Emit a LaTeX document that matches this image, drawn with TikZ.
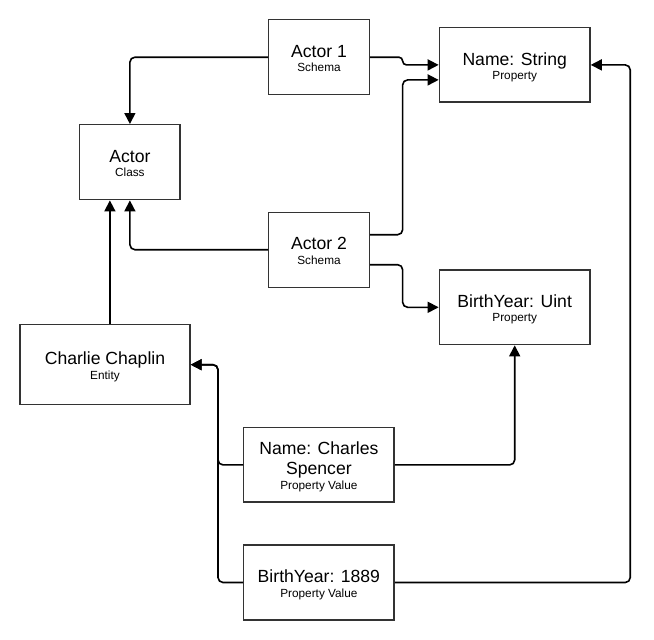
\documentclass[tikz,border=0pt]{standalone}
\usepackage{fontspec}
\setmainfont{Liberation Sans}
\usetikzlibrary{arrows.meta}
\newcommand\mainfs{\fontsize{17.6}{21}\selectfont}
\newcommand\subfs{\fontsize{11.8}{14}\selectfont}
\begin{document}
\begin{tikzpicture}[x=1pt,y=-1pt,
  box/.style={draw=black!80, line width=1.4pt, fill=white, inner sep=0pt,
              minimum width=#1, minimum height=75pt},
  maintxt/.style={anchor=base, inner sep=0pt, font=\mainfs},
  subtxt/.style={anchor=base, inner sep=0pt, font=\subfs},
  conn/.style={draw=black, line width=1.6pt, rounded corners=5pt,
               -{Triangle[length=11pt,width=11pt]}}]
\useasboundingbox (0,0) rectangle (654,640);

% boxes
\node[box=100.6pt] (a1) at (319,57.2) {};
\node[box=100.6pt] (a2) at (319,249.7) {};
\node[box=100.3pt] (actor) at (129.9,162.2) {};
\node[box=150.7pt, minimum height=74.3pt] (ns) at (514.7,64.9) {};
\node[box=150.7pt, minimum height=74.7pt] (byu) at (514.7,307.3) {};
\node[box=170pt, minimum height=80pt] (cc) at (105,364.7) {};
\node[box=150.3pt, minimum height=74.3pt] (ncs) at (318.9,464.9) {};
\node[box=150.3pt] (by) at (318.9,582.5) {};

% texts
\node[maintxt] (a1m) at (a1.center) {Actor 1};
\node[subtxt] (a1s) at ([yshift=-14.5pt]a1.center) {Schema};
\node[maintxt] (a2m) at (a2.center) {Actor 2};
\node[subtxt] (a2s) at ([yshift=-14.5pt]a2.center) {Schema};
\node[maintxt] (acm) at (actor.center) {Actor};
\node[subtxt] (acs) at ([yshift=-14.5pt]actor.center) {Class};
\node[maintxt] (nsm) at ([yshift=-0.6pt]ns.center) {Name: String};
\node[subtxt] (nss) at ([yshift=-14.5pt]ns.center) {Property};
\node[maintxt] (byum) at ([yshift=-0.6pt]byu.center) {BirthYear: Uint};
\node[subtxt] (byus) at ([yshift=-14.5pt]byu.center) {Property};
\node[maintxt] (ccm) at (cc.center) {Charlie Chaplin};
\node[subtxt] (ccs) at ([yshift=-14.5pt]cc.center) {Entity};
\node[maintxt] (ncsm) at ([yshift=10.6pt]ncs.center) {Name: Charles};
\node[maintxt] (ncsm2) at ([yshift=-9.1pt]ncs.center) {Spencer};
\node[subtxt] (ncss) at ([yshift=-24.4pt]ncs.center) {Property Value};
\node[maintxt] (bym) at (by.center) {BirthYear: 1889};
\node[subtxt] (bys) at ([yshift=-14.5pt]by.center) {Property Value};

% connectors
\coordinate (cx) at ([xshift=-20pt]actor.south);
\draw[conn] (a1.west) -| (actor.north);
\draw[conn] (a2.west) -| (actor.south);
\draw[conn] (cc.north -| cx) -- (cx);
\draw[conn, rounded corners=3.8pt] (a1.east) -| ([xshift=-36pt]ns.west) -- (ns.west);
\draw[conn] ([yshift=15pt]a2.east) -| ([xshift=-36pt,yshift=-15pt]ns.west) -- ([yshift=-15pt]ns.west);
\draw[conn] ([yshift=-15pt]a2.east) -| ([xshift=-36pt]byu.west) -- (byu.west);
\draw[conn] (ncs.west) -| ([xshift=27.3pt]cc.east) -- (cc.east);
\draw[conn] (by.west) -| ([xshift=27.3pt]cc.east) -- (cc.east);
\draw[conn] (ncs.east) -| (byu.south);
\draw[conn] (by.east) -| ([xshift=39.5pt]ns.east) -- (ns.east);
\end{tikzpicture}
\end{document}
